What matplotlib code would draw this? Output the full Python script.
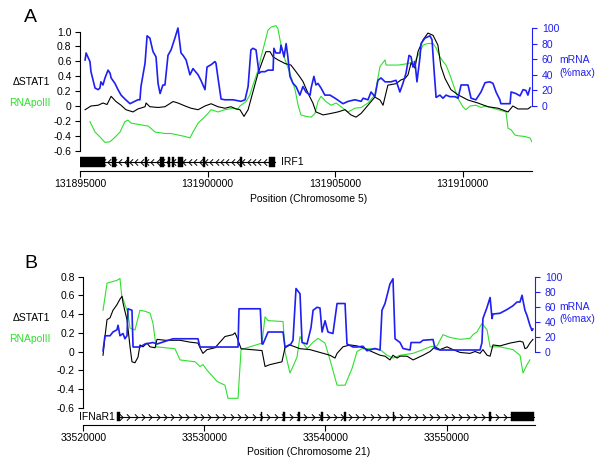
import numpy as np
import matplotlib
matplotlib.use("Agg")
import matplotlib.pyplot as plt
from matplotlib.patches import Rectangle

plt.rcParams['font.family'] = ['Liberation Sans', 'DejaVu Sans']
plt.rcParams['axes.linewidth'] = 0.8

W, H = 600, 465
FS = 7.5
BLUE = '#1f1ff2'
GREEN = '#2fe02f'

# ---------------- Panel A data (IRF1, chromosome 5) ----------------
A_START = 131895000
a_stat1_kb = [0.20, 0.43, 0.71, 0.90, 1.06, 1.22, 1.41, 1.61, 1.80, 2.08, 2.27, 2.55, 2.59, 2.74, 3.06,
              3.33, 3.65, 3.84, 4.12, 4.35, 4.63, 4.90, 5.14, 5.41, 5.68, 5.92, 6.12, 6.27, 6.43, 6.59,
              6.78, 6.98, 7.17, 7.29, 7.45, 7.57, 7.76, 8.04, 8.27, 8.47, 8.62, 8.74, 8.94, 9.13, 9.25,
              9.53, 9.84, 10.11, 10.39, 10.62, 10.82, 11.02, 11.29, 11.56, 11.76, 11.88, 12.07, 12.39,
              12.58, 12.74, 12.86, 12.98, 13.13, 13.25, 13.45, 13.64, 13.84, 14.03, 14.15, 14.31, 14.54,
              14.82, 15.21, 15.60, 15.99, 16.39, 16.78, 16.97, 17.17, 17.56, 17.68]
a_stat1 = [-0.05, 0.00, 0.01, 0.04, 0.02, 0.13, 0.06, 0.01, -0.05, -0.08, -0.04, -0.01, 0.04, -0.01, -0.02,
           -0.01, 0.06, 0.04, 0.00, -0.03, -0.05, 0.00, 0.03, -0.01, -0.03, -0.01, -0.04, -0.05, -0.14, -0.05,
           0.19, 0.44, 0.62, 0.73, 0.73, 0.66, 0.62, 0.57, 0.55, 0.46, 0.39, 0.33, 0.17, 0.04, -0.08,
           -0.12, -0.10, -0.08, -0.05, -0.12, -0.15, -0.10, 0.01, 0.12, 0.08, 0.01, 0.28, 0.30,
           0.35, 0.37, 0.42, 0.58, 0.51, 0.73, 0.89, 0.98, 0.95, 0.82, 0.53, 0.37, 0.22,
           0.15, 0.08, 0.04, -0.01, -0.03, -0.08, 0.00, -0.04, -0.04, -0.01]

a_pol2_kb = [0.39, 0.59, 0.82, 0.98, 1.18, 1.37, 1.57, 1.76, 1.88, 2.00, 2.67, 2.78, 2.94, 3.33, 3.57,
             3.84, 4.12, 4.31, 4.43, 4.63, 4.82, 5.02, 5.14, 5.41, 5.68, 6.00, 6.19, 6.27, 6.39, 6.51,
             6.66, 6.78, 6.98, 7.10, 7.25, 7.37, 7.49, 7.68, 7.76, 7.88, 8.04, 8.23, 8.43, 8.55, 8.66,
             8.86, 9.06, 9.21, 9.33, 9.45, 9.64, 9.84, 10.04, 10.31, 10.51, 10.78, 11.02, 11.29, 11.56,
             11.76, 11.96, 12.00, 12.47, 12.86, 13.13, 13.33, 13.45, 13.64, 13.84, 13.96, 14.11, 14.23,
             14.35, 14.50, 14.62, 14.82, 15.01, 15.13, 15.29, 15.52, 15.72, 15.92, 16.19, 16.50, 16.70,
             16.78, 16.90, 17.05, 17.17, 17.44, 17.64, 17.76]
a_pol2 = [-0.21, -0.35, -0.43, -0.49, -0.48, -0.42, -0.35, -0.21, -0.19, -0.23, -0.27, -0.30, -0.35, -0.37, -0.37,
          -0.39, -0.41, -0.43, -0.35, -0.23, -0.17, -0.10, -0.05, -0.08, -0.05, -0.03, -0.04, 0.00, 0.03, 0.06,
          0.15, 0.28, 0.48, 0.66, 0.86, 1.02, 1.06, 1.08, 1.04, 0.82, 0.62, 0.44, 0.22, 0.01, -0.12,
          -0.14, -0.15, -0.10, 0.06, 0.13, 0.06, 0.01, 0.04, -0.03, -0.08, -0.03, -0.02, 0.04, 0.15,
          0.53, 0.62, 0.55, 0.55, 0.57, 0.60, 0.73, 0.82, 0.84, 0.84, 0.78, 0.66, 0.60,
          0.55, 0.42, 0.30, 0.10, -0.01, -0.05, 0.00, 0.01, -0.02, 0.00, -0.03, -0.06, -0.08,
          -0.30, -0.32, -0.39, -0.40, -0.41, -0.43, -0.51]

a_mrna_kb = [0.20, 0.24, 0.39, 0.43, 0.59, 0.71, 0.78, 0.82, 0.90, 0.98,
             1.10, 1.18, 1.22, 1.37, 1.49, 1.61, 1.76, 1.96, 2.27, 2.35,
             2.39, 2.55, 2.63, 2.74, 2.86, 2.98, 3.06, 3.14, 3.25, 3.33,
             3.45, 3.57, 3.72, 3.84, 3.96, 4.04, 4.16, 4.31, 4.43, 4.63,
             4.74, 4.90, 4.98, 5.14, 5.29, 5.33, 5.41, 5.53, 5.68, 6.00,
             6.31, 6.47, 6.59, 6.70, 6.78, 6.90, 7.02, 7.10, 7.25, 7.37,
             7.57, 7.60, 7.68, 7.84, 7.88, 8.00, 8.08, 8.15, 8.23, 8.35,
             8.47, 8.62, 8.74, 8.86, 9.02, 9.06, 9.17, 9.25, 9.33, 9.45,
             9.60, 9.80, 10.00, 10.31, 10.51, 10.78, 11.02, 11.10, 11.29, 11.41,
             11.56, 11.68, 11.80, 11.96, 12.19, 12.39, 12.54, 12.66, 12.78, 12.90,
             12.98, 13.05, 13.13, 13.21, 13.33, 13.37, 13.52, 13.72, 13.80, 13.88,
             13.96, 14.11, 14.23, 14.35, 14.50, 14.70, 14.82, 14.94, 15.21, 15.33,
             15.52, 15.72, 15.88, 16.07, 16.19, 16.31, 16.46, 16.50, 16.86, 16.90,
             17.09, 17.25, 17.37, 17.48, 17.56, 17.64]
a_mrna = [59, 68, 57, 44, 23, 21, 23, 31, 27, 36,
          46, 42, 36, 29, 21, 14, 9, 3, 8, 8,
          25, 55, 90, 87, 70, 63, 29, 16, 27, 27,
          65, 72, 87, 100, 68, 65, 59, 40, 48, 40,
          33, 21, 50, 53, 57, 55, 36, 9, 8, 8,
          6, 8, 25, 72, 74, 72, 42, 44, 44, 46,
          46, 74, 68, 68, 78, 63, 80, 63, 38, 29,
          25, 14, 25, 18, 14, 23, 38, 27, 29, 23,
          14, 14, 10, 3, 6, 8, 6, 10, 8, 18,
          12, 33, 36, 31, 31, 33, 18, 29, 42, 65,
          63, 50, 57, 31, 63, 80, 87, 90, 85, 46,
          11, 14, 10, 14, 12, 12, 10, 27, 27, 10,
          8, 18, 30, 31, 29, 18, 8, 3, 3, 18,
          16, 13, 21, 20, 14, 23]

# IRF1 exons (bp offsets from A_START), minus strand
irf1_exon_start = [0, 1240, 1840, 2550, 3140, 3440, 3620, 3830, 4830, 6270, 7420]
irf1_exon_end = [990, 1400, 1910, 2620, 3290, 3530, 3680, 4050, 4900, 6340, 7660]

# ---------------- Panel B data (IFNaR1, chromosome 21) ----------------
B_START = 33520000
b_stat1_kb = [1.63, 1.79, 1.96, 2.21, 2.45, 2.78, 3.03, 3.20, 3.28, 3.44,
              3.61, 3.86, 4.02, 4.27, 4.52, 4.68, 4.93, 5.26, 5.51, 5.93,
              6.09, 6.75, 7.99, 8.81, 9.47, 9.64, 9.88, 10.22, 10.88, 11.70,
              12.36, 12.53, 12.70, 13.03, 14.76, 15.01, 15.42, 16.41, 16.66, 17.07,
              17.48, 17.90, 18.72, 19.55, 20.37, 20.79, 20.96, 21.45, 22.03, 22.61,
              23.10, 24.51, 24.92, 25.33, 25.58, 25.91, 26.16, 26.74, 27.24, 28.06,
              28.64, 29.05, 29.46, 30.04, 30.54, 31.12, 31.94, 32.36, 32.77, 33.01,
              33.35, 33.60, 33.84, 34.42, 35.25, 36.07, 36.32, 36.48, 36.65, 36.89, 37.14]
b_stat1 = [-0.04, 0.16, 0.34, 0.36, 0.44, 0.50, 0.56, 0.59, 0.52, 0.43,
           0.34, 0.05, -0.11, -0.12, -0.06, 0.07, 0.05, 0.09, 0.05, 0.04,
           0.13, 0.12, 0.12, 0.10, 0.09, 0.04, -0.02, 0.02, 0.04, 0.16,
           0.18, 0.20, 0.15, 0.03, 0.01, -0.16, -0.14, -0.11, 0.04, 0.07,
           0.05, 0.03, 0.02, -0.01, -0.04, -0.07, -0.02, 0.05, 0.07, 0.06,
           0.04, -0.04, -0.05, -0.09, -0.04, -0.07, -0.05, -0.05, -0.09, -0.04,
           0.00, 0.05, 0.02, 0.05, 0.02, -0.01, -0.02, 0.00, -0.02, 0.02,
           -0.04, -0.05, 0.07, 0.06, 0.09, 0.11, 0.10, 0.03, 0.04, 0.09, 0.13]

b_pol2_kb = [1.63, 1.96, 2.21, 2.78, 3.03, 3.17, 3.69, 3.86, 4.27, 4.68,
             5.10, 5.51, 5.76, 6.01, 7.57, 7.99, 9.23, 9.64, 9.89, 10.22,
             10.71, 11.05, 11.70, 11.95, 12.78, 13.03, 14.76, 15.01, 15.26, 16.50,
             16.66, 17.07, 17.32, 17.65, 17.90, 18.15, 18.48, 18.98, 19.39, 19.97,
             20.38, 20.96, 21.62, 22.20, 22.61, 23.02, 23.68, 24.51, 25.09, 25.58,
             26.16, 27.24, 28.06, 28.64, 29.22, 29.46, 29.71, 30.29, 31.12, 31.94,
             32.19, 32.52, 32.93, 33.35, 33.60, 34.42, 35.49, 36.07, 36.32, 36.65, 36.89]
b_pol2 = [0.44, 0.73, 0.74, 0.76, 0.78, 0.60, 0.41, 0.25, 0.23, 0.44,
          0.43, 0.41, 0.30, 0.05, 0.03, -0.09, -0.11, -0.16, -0.14, -0.20,
          -0.27, -0.32, -0.36, -0.50, -0.50, 0.02, 0.09, 0.37, 0.33, 0.32,
          0.00, -0.23, -0.16, -0.06, 0.16, 0.09, 0.03, 0.10, 0.14, 0.09,
          -0.09, -0.36, -0.36, -0.18, 0.00, 0.03, 0.03, 0.02, -0.04, -0.07,
          -0.04, -0.02, 0.02, 0.05, 0.06, 0.12, 0.18, 0.15, 0.13, 0.14,
          0.18, 0.21, 0.30, 0.23, 0.05, 0.05, 0.02, -0.04, -0.23, -0.14, -0.09]

b_mrna_kb = [1.63, 1.79, 2.21, 2.45, 2.78, 2.87, 3.03, 3.28, 3.44, 3.61,
             3.69, 4.02, 4.11, 4.68, 5.10, 5.76, 6.09, 7.41, 8.40, 9.47,
             9.64, 10.47, 12.78, 12.86, 14.62, 14.76, 14.84, 15.26, 16.50, 16.66,
             17.15, 17.32, 17.57, 17.90, 18.07, 18.48, 18.81, 18.98, 19.31, 19.55,
             19.72, 19.97, 20.21, 20.62, 20.96, 21.62, 21.78, 22.28, 22.61, 23.10,
             23.43, 24.09, 24.51, 24.67, 24.92, 25.33, 25.58, 25.75, 26.16, 26.41,
             26.99, 27.07, 27.82, 28.06, 28.89, 29.05, 29.46, 32.77, 32.93, 33.01,
             33.35, 33.60, 33.76, 33.84, 34.42, 35.00, 35.49, 35.82, 36.07, 36.24,
             36.32, 36.48, 36.65, 36.89, 37.06, 37.14]
b_mrna = [1, 21, 21, 26, 29, 35, 21, 24, 17, 21,
          57, 55, 6, 6, 10, 12, 10, 17, 17, 17,
          6, 6, 6, 57, 57, 10, 10, 26, 26, 6,
          10, 15, 84, 77, 12, 10, 32, 55, 59, 58,
          26, 41, 26, 24, 64, 64, 10, 6, 6, 7,
          1, 4, 2, 55, 64, 90, 97, 17, 12, 4,
          2, 12, 12, 15, 16, 4, 2, 2, 12, 44,
          59, 72, 44, 50, 51, 56, 61, 66, 66, 75,
          68, 55, 48, 35, 28, 30]

# IFNaR1 exons (bp offsets from B_START), plus strand
ifnar1_exon_start = [2790, 14640, 16500, 17740, 19600, 21540, 25540, 33480, 35300]
ifnar1_exon_end = [3030, 14800, 16660, 17900, 19760, 21700, 25700, 33640, 37250]

# axis ticks / labels
a_left_ticks = [-0.6, -0.4, -0.2, 0, 0.2, 0.4, 0.6, 0.8, 1.0]
a_left_labels = ['-0.6', '-0.4', '-0.2', '0', '0.2', '0.4', '0.6', '0.8', '1.0']
b_left_ticks = [-0.6, -0.4, -0.2, 0, 0.2, 0.4, 0.6, 0.8]
b_left_labels = ['-0.6', '-0.4', '-0.2', '0', '0.2', '0.4', '0.6', '0.8']
right_ticks = [0, 20, 40, 60, 80, 100]
a_xticks = [131895000, 131900000, 131905000, 131910000]
b_xticks = [33520000, 33530000, 33540000, 33550000]

fig = plt.figure(figsize=(W / 100, H / 100), dpi=100)


def fx(px):
    return px / W


def fy(py):
    return 1 - py / H


def panel(start, x0, x1, ytop, ybot, ylim_l, ylim_r, left_ticks, left_labels,
          stat_kb, stat, pol_kb, pol, mrna_kb, mrna, xmax_kb, axis_y, xticks,
          ex_s, ex_e, strand, gene_yc, box_h, chev_sp):
    ax = fig.add_axes([fx(x0), fy(ybot), fx(x1) - fx(x0), fy(ytop) - fy(ybot)])
    ax.patch.set_alpha(0)
    ax.set_xlim(start, start + xmax_kb * 1000)
    ax.set_ylim(*ylim_l)
    for s in ['top', 'right', 'bottom']:
        ax.spines[s].set_visible(False)
    ax.spines['left'].set_bounds(left_ticks[0], left_ticks[-1])
    ax.set_xticks([])
    ax.set_yticks(left_ticks)
    ax.set_yticklabels(left_labels, fontsize=FS)
    ax.tick_params(axis='y', direction='out', length=3.6, width=0.8, pad=2.5)
    ax.plot(start + np.array(pol_kb) * 1000, pol, color=GREEN, lw=0.8)
    ax.plot(start + np.array(stat_kb) * 1000, stat, color='black', lw=0.8)

    ax2 = ax.twinx()
    ax2.set_ylim(*ylim_r)
    for s in ['top', 'left', 'bottom']:
        ax2.spines[s].set_visible(False)
    ax2.spines['right'].set_color(BLUE)
    ax2.spines['right'].set_bounds(0, 100)
    ax2.set_yticks(right_ticks)
    ax2.set_yticklabels([str(t) for t in right_ticks], fontsize=FS, color=BLUE)
    ax2.tick_params(axis='y', direction='out', length=3.6, width=0.8, pad=3.5, colors=BLUE)
    ax2.plot(start + np.array(mrna_kb) * 1000, mrna, color=BLUE, lw=1.2)

    # gene track + genomic axis
    axg = fig.add_axes([fx(x0), fy(axis_y), fx(x1) - fx(x0), 19 / H])
    axg.patch.set_alpha(0)
    axg.set_xlim(start, start + xmax_kb * 1000)
    axg.set_ylim(0, 19)
    for s in ['top', 'left', 'right']:
        axg.spines[s].set_visible(False)
    axg.set_yticks([])
    axg.set_xticks(xticks)
    axg.set_xticklabels([str(t) for t in xticks], fontsize=FS)
    axg.tick_params(axis='x', direction='out', length=4.5, width=0.8, pad=1.5)
    gs = start + ex_s[0]
    ge = start + ex_e[-1]
    axg.plot([gs, ge], [gene_yc, gene_yc], color='black', lw=0.8)
    if strand > 0:
        verts = [(-0.5, 1), (0.5, 0), (-0.5, -1)]
    else:
        verts = [(0.5, 1), (-0.5, 0), (0.5, -1)]
    cx = np.arange(gs + chev_sp / 2, ge, chev_sp)
    axg.plot(cx, np.full(len(cx), gene_yc), ls='none', marker=verts, ms=4.6,
             mfc='none', mec='black', mew=0.7)
    for s_, e_ in zip(ex_s, ex_e):
        axg.add_patch(Rectangle((start + s_, gene_yc - box_h / 2), e_ - s_, box_h,
                                facecolor='black', edgecolor='black', lw=0.3, zorder=3))
    return ax, ax2, axg


panel(A_START, 80, 532, 20, 155, (-0.659, 1.156), (-62.8, 110.3), a_left_ticks, a_left_labels,
      a_stat1_kb, a_stat1, a_pol2_kb, a_pol2, a_mrna_kb, a_mrna, 17.72, 171, a_xticks,
      irf1_exon_start, irf1_exon_end, -1, 9, 10, 210)

panel(B_START, 83.3, 535, 258, 410, (-0.625, 0.999), (-78.0, 124.7), b_left_ticks, b_left_labels,
      b_stat1_kb, b_stat1, b_pol2_kb, b_pol2, b_mrna_kb, b_mrna, 37.31, 425, b_xticks,
      ifnar1_exon_start, ifnar1_exon_end, 1, 8.3, 8.5, 610)

# ---------------- Text ----------------
fig.text(fx(30.5), fy(17), 'A', fontsize=14, ha='center', va='center')
fig.text(fx(30.5), fy(264), 'B', fontsize=14, ha='center', va='center')

fig.text(fx(50), fy(82), '\u0394STAT1', fontsize=FS, ha='right', va='center', color='black')
fig.text(fx(50), fy(103), 'RNApolII', fontsize=FS, ha='right', va='center', color=GREEN)
fig.text(fx(559), fy(60), 'mRNA', fontsize=FS, ha='left', va='center', color=BLUE)
fig.text(fx(559), fy(73), '(%max)', fontsize=FS, ha='left', va='center', color=BLUE)

fig.text(fx(50), fy(318), '\u0394STAT1', fontsize=FS, ha='right', va='center', color='black')
fig.text(fx(50), fy(339), 'RNApolII', fontsize=FS, ha='right', va='center', color=GREEN)
fig.text(fx(559), fy(307), 'mRNA', fontsize=FS, ha='left', va='center', color=BLUE)
fig.text(fx(559), fy(319), '(%max)', fontsize=FS, ha='left', va='center', color=BLUE)

fig.text(fx(281), fy(162), 'IRF1', fontsize=FS, ha='left', va='center')
fig.text(fx(115), fy(417), 'IFNaR1', fontsize=FS, ha='right', va='center')

fig.text(fx(309), fy(199), 'Position (Chromosome 5)', fontsize=FS, ha='center', va='center')
fig.text(fx(309), fy(452), 'Position (Chromosome 21)', fontsize=FS, ha='center', va='center')

fig.savefig('out.png', dpi=100)
